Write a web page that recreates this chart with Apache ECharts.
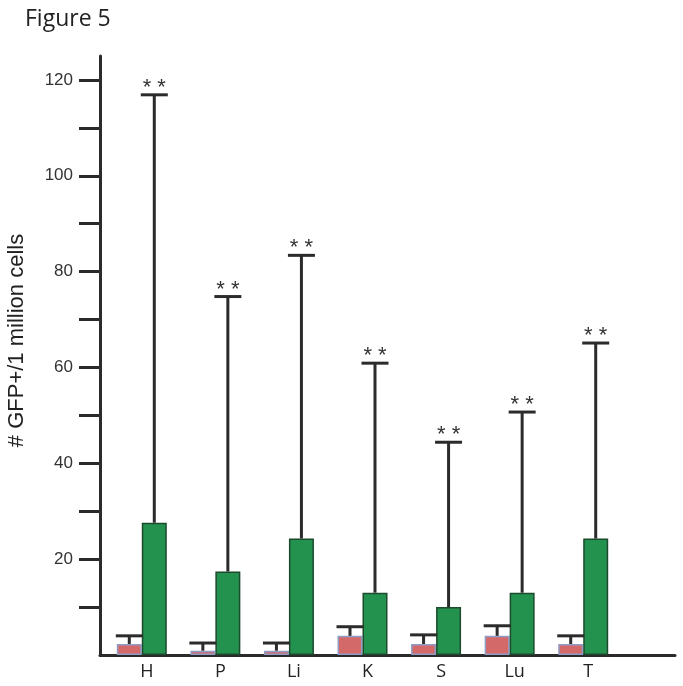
<!DOCTYPE html>
<html>
  <head>
    <meta charset="UTF-8" />
    <title>Figure 5</title>
    <style>
      html, body { margin: 0; padding: 0; background: #fff; }
      #main { width: 683px; height: 686px; }
    </style>
  </head>
  <body>
    <div id="main"></div>
  </body>
  <script src="https://cdn.jsdelivr.net/npm/echarts@6/dist/echarts.min.js"></script>
  <script>
    // tissues
    var categories = ["H", "P", "Li", "K", "S", "Lu", "T"];
    // control (red) mean and top of error bar
    var ctrlMean = [2.3, 0.9, 0.9, 4.0, 2.3, 4.0, 2.3];
    var ctrlUpper = [4.0, 2.5, 2.5, 5.9, 4.2, 6.1, 4.0];
    // treated (green) mean and top of error bar
    var gfpMean = [27.6, 17.4, 24.3, 13.0, 10.0, 13.0, 24.3];
    var gfpUpper = [116.9, 74.8, 83.4, 60.9, 44.4, 50.7, 65.1];
    var yTicks = [10, 20, 30, 40, 50, 60, 70, 80, 90, 100, 110, 120];
    var yLabels = [20, 40, 60, 80, 100, 120];

    var BAR_W = 25;
    var CAP_W = 27;
    var INK = "#2b2b2b";

    var myChart = echarts.init(document.getElementById("main"));

    function errData(mean, upper) {
      var out = [];
      for (var i = 0; i < categories.length; i++) {
        out.push([i, mean[i], upper[i]]);
      }
      return out;
    }

    function errRender(side, stars) {
      return function (params, api) {
        var idx = api.value(0);
        var base = api.coord([idx, api.value(1)]);
        var top = api.coord([idx, api.value(2)]);
        var x = base[0] + side * BAR_W / 2;
        var kids = [
          {
            type: "line",
            shape: { x1: x, y1: base[1], x2: x, y2: top[1] },
            style: { stroke: INK, lineWidth: 3 },
          },
          {
            type: "line",
            shape: { x1: x - CAP_W / 2, y1: top[1], x2: x + CAP_W / 2, y2: top[1] },
            style: { stroke: INK, lineWidth: 3 },
          },
        ];
        if (stars) {
          kids.push({
            type: "text",
            x: x,
            y: top[1] + 4,
            style: {
              text: "* *",
              fill: "#333",
              font: "22px 'Liberation Sans', Arial, sans-serif",
              align: "center",
              verticalAlign: "bottom",
            },
          });
        }
        return { type: "group", children: kids };
      };
    }

    var option = {
      animation: false,
      title: {
        text: "Figure 5",
        left: 20,
        top: 3,
        textStyle: {
          fontFamily: "Open Sans",
          fontWeight: "normal",
          fontSize: 23,
          color: "#222",
        },
      },
      grid: [
        { left: 105, width: 515, top: 56, bottom: 31, outerBoundsMode: "none" },
        { left: 100, right: 8, top: 56, bottom: 31, outerBoundsMode: "none" },
      ],
      xAxis: [
        {
          type: "category",
          gridIndex: 0,
          data: categories,
          axisLine: { show: false },
          axisTick: { show: false },
          axisLabel: {
            margin: 8,
            padding: [0, 0, 0, 10],
            fontFamily: "Open Sans",
            fontSize: 18,
            color: "#222",
          },
        },
        {
          type: "value",
          gridIndex: 1,
          min: 0,
          max: 1,
          axisLine: { show: true, lineStyle: { color: INK, width: 3 } },
          axisTick: { show: false },
          axisLabel: { show: false },
          splitLine: { show: false },
        },
      ],
      yAxis: [
        {
          type: "value",
          gridIndex: 0,
          min: 0,
          max: 125,
          show: false,
        },
        {
          type: "value",
          gridIndex: 1,
          min: 0,
          max: 125,
          name: "# GFP+/1 million cells",
          nameLocation: "middle",
          nameGap: 72,
          nameTextStyle: {
            fontFamily: "Liberation Sans",
            fontSize: 22,
            color: "#222",
            padding: [0, 0, 0, 30],
          },
          axisLine: { show: true, lineStyle: { color: INK, width: 3 } },
          axisTick: {
            show: true,
            customValues: yTicks,
            length: 21,
            lineStyle: { color: INK, width: 3 },
          },
          axisLabel: {
            customValues: yLabels,
            margin: 27,
            fontFamily: "Liberation Sans",
            fontSize: 17,
            color: "#333",
          },
          splitLine: { show: false },
        },
      ],
      series: [
        {
          name: "Control",
          type: "bar",
          xAxisIndex: 0,
          yAxisIndex: 0,
          barWidth: BAR_W,
          barGap: "0%",
          data: ctrlMean,
          itemStyle: { color: "#d4696a", borderColor: "#8f9dc6", borderWidth: 1.5 },
        },
        {
          name: "GFP",
          type: "bar",
          xAxisIndex: 0,
          yAxisIndex: 0,
          barWidth: BAR_W,
          data: gfpMean,
          itemStyle: { color: "#24924f", borderColor: "#1c4a2d", borderWidth: 1.5 },
        },
        {
          type: "custom",
          xAxisIndex: 0,
          yAxisIndex: 0,
          renderItem: errRender(-1, false),
          encode: { x: 0, y: [1, 2] },
          data: errData(ctrlMean, ctrlUpper),
          z: 3,
        },
        {
          type: "custom",
          xAxisIndex: 0,
          yAxisIndex: 0,
          renderItem: errRender(1, true),
          encode: { x: 0, y: [1, 2] },
          data: errData(gfpMean, gfpUpper),
          z: 3,
        },
      ],
    };
    myChart.setOption(option);
  </script>
</html>
